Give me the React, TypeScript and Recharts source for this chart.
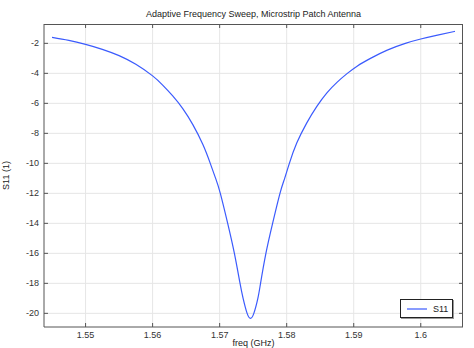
import React from 'react';
import { LineChart, Line, XAxis, YAxis, CartesianGrid, Legend } from 'recharts';

// values
const freqs = [
  1.545, 1.5475, 1.55, 1.5525, 1.555, 1.5575, 1.56, 1.5615, 1.563, 1.5645,
  1.566, 1.5675, 1.5686, 1.5694, 1.5701, 1.5712, 1.5722, 1.573, 1.5735, 1.5741,
  1.5746, 1.5751, 1.5757, 1.5761, 1.5769, 1.5779, 1.579, 1.5797, 1.5804, 1.5815,
  1.583, 1.5845, 1.586, 1.5875, 1.589, 1.5905, 1.5925, 1.595, 1.5977, 1.6,
  1.6025, 1.6051,
];
const s11 = [
  -1.6, -1.8, -2.07, -2.4, -2.82, -3.4, -4.17, -4.78, -5.5, -6.35,
  -7.42, -8.75, -10.0, -11.0, -12.0, -14.0, -16.0, -17.9, -19.0, -20.0,
  -20.33, -20.0, -19.0, -18.0, -16.0, -14.0, -12.0, -11.0, -10.0, -8.65,
  -7.3, -6.2, -5.3, -4.6, -4.02, -3.52, -3.0, -2.45, -2.0, -1.71,
  -1.45, -1.2,
];
const xTicks = [1.55, 1.56, 1.57, 1.58, 1.59, 1.6];
const yTicks = [-20, -18, -16, -14, -12, -10, -8, -6, -4, -2];

const data = freqs.map((f, i) => ({ freq: f, S11: s11[i] }));

const W = 474;
const H = 348;
const PLOT_LEFT = 44;
const PLOT_RIGHT = 463;
const PLOT_TOP = 24;
const PLOT_BOTTOM = 327;
const FONT = '"Liberation Sans", Arial, sans-serif';
const AXIS = '#555';
const BLUE = '#3b5bfd';

function XTick({ x, payload }: any) {
  return (
    <g>
      <line x1={x} x2={x} y1={PLOT_BOTTOM} y2={PLOT_BOTTOM - 4} stroke={AXIS} />
      <line x1={x} x2={x} y1={PLOT_TOP} y2={PLOT_TOP + 4} stroke={AXIS} />
      <text x={x} y={PLOT_BOTTOM + 11} textAnchor="middle" fontSize={9} fill="#333" fontFamily={FONT}>
        {String(payload.value)}
      </text>
    </g>
  );
}

function YTick({ y, payload }: any) {
  return (
    <g>
      <line x1={PLOT_LEFT} x2={PLOT_LEFT + 4} y1={y} y2={y} stroke={AXIS} />
      <line x1={PLOT_RIGHT} x2={PLOT_RIGHT - 4} y1={y} y2={y} stroke={AXIS} />
      <text x={PLOT_LEFT - 5} y={y + 3} textAnchor="end" fontSize={9} fill="#333" fontFamily={FONT}>
        {String(payload.value)}
      </text>
    </g>
  );
}

function LegendBox() {
  return (
    <div
      style={{
        border: '1px solid #222',
        boxShadow: '1px 1px 0 #999',
        background: '#fff',
        width: 51,
        height: 17,
        display: 'flex',
        alignItems: 'center',
        fontFamily: FONT,
        fontSize: 9,
        color: '#222',
        boxSizing: 'content-box',
      }}
    >
      <svg width={28} height={10}>
        <line x1={6} x2={26} y1={5} y2={5} stroke={BLUE} strokeWidth={1.2} />
      </svg>
      <span style={{ marginLeft: 4 }}>S11</span>
    </div>
  );
}

export default function App() {
  return (
    <div style={{ position: 'absolute', left: 0, top: 0, width: W, height: H, background: '#fff' }}>
      <div
        style={{
          position: 'absolute',
          left: PLOT_LEFT,
          width: PLOT_RIGHT - PLOT_LEFT,
          top: 9,
          textAlign: 'center',
          fontFamily: FONT,
          fontSize: 9,
          color: '#222',
          lineHeight: '10px',
        }}
      >
        Adaptive Frequency Sweep, Microstrip Patch Antenna
      </div>
      <LineChart width={W} height={H} data={data} margin={{ top: PLOT_TOP, right: W - PLOT_RIGHT, bottom: 0, left: 0 }}>
        <CartesianGrid stroke="#e6e6e6" horizontalValues={yTicks} verticalValues={xTicks} />
        <XAxis
          type="number"
          dataKey="freq"
          domain={[1.5438, 1.6063]}
          ticks={xTicks}
          interval={0}
          allowDataOverflow
          height={21}
          tickLine={false}
          axisLine={{ stroke: AXIS }}
          tick={<XTick />}
          label={{ value: 'freq (GHz)', position: 'insideBottom', offset: 2, fontSize: 9, fill: '#222', fontFamily: FONT }}
        />
        <YAxis
          type="number"
          domain={[-20.91, -0.71]}
          ticks={yTicks}
          interval={0}
          allowDataOverflow
          width={PLOT_LEFT}
          tickLine={false}
          axisLine={{ stroke: AXIS }}
          tick={<YTick />}
          label={{
            content: () => (
              <text
                x={9}
                y={(PLOT_TOP + PLOT_BOTTOM) / 2}
                transform={`rotate(-90 9 ${(PLOT_TOP + PLOT_BOTTOM) / 2})`}
                textAnchor="middle"
                fontSize={9}
                fill="#222"
                fontFamily={FONT}
              >
                S11 (1)
              </text>
            ),
          }}
        />
        <Legend
          layout="vertical"
          align="center"
          verticalAlign="middle"
          content={<LegendBox />}
          wrapperStyle={{ left: 400, top: 299, width: 53 }}
        />
        <Line
          type="natural"
          dataKey="S11"
          stroke={BLUE}
          strokeWidth={1.2}
          dot={false}
          isAnimationActive={false}
        />
      </LineChart>
      <div
        style={{
          position: 'absolute',
          left: PLOT_LEFT,
          top: PLOT_TOP,
          width: PLOT_RIGHT - PLOT_LEFT - 1,
          height: PLOT_BOTTOM - PLOT_TOP - 1,
          borderTop: `1px solid ${AXIS}`,
          borderRight: `1px solid ${AXIS}`,
          pointerEvents: 'none',
        }}
      />
    </div>
  );
}
